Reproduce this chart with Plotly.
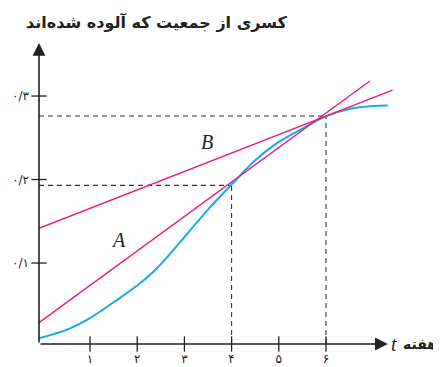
import plotly.graph_objects as go

# curve: fraction of population infected vs. week
t_curve = [-0.08, 0.5, 1, 1.5, 2, 2.42, 3, 3.5, 4, 4.5, 5, 5.5, 6, 6.5, 7, 7.31]
y_curve = [0.010, 0.020, 0.034, 0.053, 0.073, 0.0937, 0.131, 0.164, 0.194,
           0.223, 0.245, 0.261, 0.276, 0.2845, 0.288, 0.2885]

# line A (secant 4..6) and line B (tangent at 6)
t_lineA = [-0.08, 6.93]
y_lineA = [0.0285, 0.318]
t_lineB = [-0.08, 7.41]
y_lineB = [0.1416, 0.307]

# marked points on the curve
t_marks = [4, 6]
y_marks = [0.193, 0.276]

x_ticks = [1, 2, 3, 4, 5, 6]
x_ticktext = ["۱", "۲", "۳", "۴", "۵", "۶"]
y_ticks = [0.1, 0.2, 0.3]
y_ticktext = ["۰/۱", "۰/۲", "۰/۳"]

x0, x1 = -0.0805, 7.568
y0, y1 = 0.003, 0.3635

PINK = "#e6197f"
BLUE = "#18a9e6"
INK = "#222222"

fig = go.Figure()
fig.add_trace(go.Scatter(x=t_curve, y=y_curve, mode="lines",
                         line=dict(color=BLUE, width=2, shape="spline", smoothing=0.9),
                         hoverinfo="skip"))
fig.add_trace(go.Scatter(x=t_lineA, y=y_lineA, mode="lines",
                         line=dict(color=PINK, width=1.4), hoverinfo="skip"))
fig.add_trace(go.Scatter(x=t_lineB, y=y_lineB, mode="lines",
                         line=dict(color=PINK, width=1.4), hoverinfo="skip"))

# tick marks crossing the axes
fig.add_trace(go.Scatter(x=x_ticks, y=[y0] * len(x_ticks), mode="markers",
                         marker=dict(symbol="line-ns-open", size=11, color=INK,
                                     line=dict(color=INK, width=1.3)),
                         cliponaxis=False, hoverinfo="skip"))
fig.add_trace(go.Scatter(x=[x0] * len(y_ticks), y=y_ticks, mode="markers",
                         marker=dict(symbol="line-ew-open", size=11, color=INK,
                                     line=dict(color=INK, width=1.3)),
                         cliponaxis=False, hoverinfo="skip"))

dash = dict(color="#333333", width=1.1, dash="5px,4px")
for tm, ym in zip(t_marks, y_marks):
    fig.add_shape(type="line", x0=x0, x1=tm, y0=ym, y1=ym, line=dash, layer="below")
    fig.add_shape(type="line", x0=tm, x1=tm, y0=y0, y1=ym, line=dash, layer="below")

# axis arrows
fig.add_annotation(x=x0, y=y1, ax=x0, ay=y0, axref="x", ayref="y", text="",
                   showarrow=True, arrowhead=2, arrowsize=1.6, arrowwidth=1.6,
                   arrowcolor=INK)
fig.add_annotation(x=7.31, y=y0, ax=x0, ay=y0, axref="x", ayref="y", text="",
                   showarrow=True, arrowhead=2, arrowsize=1.6, arrowwidth=1.6,
                   arrowcolor=INK)

serif = dict(family="Liberation Serif, serif", size=20, color=INK)
fig.add_annotation(x=1.61, y=0.1275, text="<i>A</i>", showarrow=False, font=serif)
fig.add_annotation(x=3.48, y=0.245, text="<i>B</i>", showarrow=False, font=serif)
fig.add_annotation(x=7.35, y=y0, text="<i>t</i>", showarrow=False, font=serif,
                   xanchor="left", yanchor="middle", borderpad=0)
fig.add_annotation(x=1.0, y=0.0, xref="paper", yref="paper", xshift=39, yshift=0,
                   text="<b>هفته</b>", showarrow=False, xanchor="right", yanchor="middle",
                   font=dict(family="DejaVu Sans", size=14, color=INK))
fig.add_annotation(x=0, y=1, xref="paper", yref="paper", xshift=-15, yshift=21,
                   text="<b>کسری از جمعیت که آلوده شده‌اند</b>", showarrow=False,
                   xanchor="left", yanchor="middle",
                   font=dict(family="DejaVu Sans", size=16, color=INK))

# page body adds an 8px offset, so the figure is drawn 8px smaller
fig.update_layout(
    width=433, height=359,
    margin=dict(l=31, r=41, t=35, b=23),
    plot_bgcolor="white", paper_bgcolor="white",
    showlegend=False,
    font=dict(family="DejaVu Sans", size=12, color=INK),
    xaxis=dict(range=[x0, x1], showgrid=False, zeroline=False, showline=False,
               tickvals=x_ticks, ticktext=x_ticktext, ticks="", ticklabelstandoff=6,
               tickfont=dict(size=12), automargin=False, fixedrange=True),
    yaxis=dict(range=[y0, y1], showgrid=False, zeroline=False, showline=False,
               tickvals=y_ticks, ticktext=y_ticktext, ticks="", ticklabelstandoff=9,
               tickfont=dict(size=12), automargin=False, fixedrange=True),
)

fig.write_html("out.html")
